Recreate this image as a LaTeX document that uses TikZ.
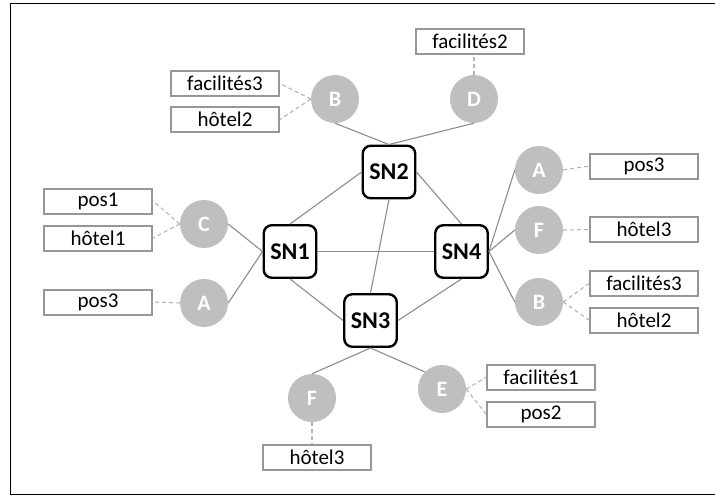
\documentclass[tikz,border=0pt]{standalone}
\usepackage{fontspec}
\setmainfont{Carlito}
\definecolor{circgray}{RGB}{191,191,191}
\definecolor{boxgray}{RGB}{150,150,150}
\definecolor{linegray}{RGB}{140,140,140}
\definecolor{dashgray}{RGB}{180,180,180}
\begin{document}
\begin{tikzpicture}[x=1pt,y=-1pt,
 sn/.style={draw=black,line width=2.4pt,fill=white,rounded corners=8pt,minimum width=52.5pt,minimum height=52.5pt,font=\bfseries\fontsize{24}{26}\selectfont,inner sep=0pt},
 cir/.style={circle,fill=circgray,minimum size=48pt,inner sep=0pt,text=white,font=\bfseries\fontsize{22}{24}\selectfont},
 lbox/.style={draw=boxgray,line width=2pt,fill=white,minimum width=108pt,minimum height=25pt,inner sep=0pt,font=\fontsize{21}{23}\selectfont},
 link/.style={draw=linegray,line width=1.1pt},
 dlink/.style={draw=dashgray,line width=1.1pt,dash pattern=on 4pt off 3pt}]
\useasboundingbox (0,0) rectangle (715,496);
\draw[line width=1.2pt,black] (10.5,3.5) rectangle (720,494.5);
% supernodes
\node[sn] (SN1) at (290,251.5) {SN1};
\node[sn] (SN2) at (389,172) {SN2};
\node[sn] (SN3) at (370.5,320.5) {SN3};
\node[sn] (SN4) at (461.5,251.5) {SN4};
% circles
\node[cir] (Bt) at (335,99) {B};
\node[cir] (D) at (474,99) {D};
\node[cir] (C) at (204,224) {C};
\node[cir] (Al) at (204,303) {A};
\node[cir] (Ar) at (539,170) {A};
\node[cir] (Fr) at (539,230) {F};
\node[cir] (Br) at (539,302) {B};
\node[cir] (Fb) at (312,398) {F};
\node[cir] (E) at (442,389) {E};
% label boxes
\node[lbox] (fac3t) at (225,83.5) {facilités3};
\node[lbox] (hot2t) at (225,119.5) {hôtel2};
\node[lbox] (fac2) at (470,41) {facilités2};
\node[lbox] (pos1) at (98,201) {pos1};
\node[lbox] (hot1) at (98,238) {hôtel1};
\node[lbox] (pos3l) at (98,302) {pos3};
\node[lbox] (pos3r) at (644,166) {pos3};
\node[lbox] (hot3r) at (644,229.5) {hôtel3};
\node[lbox] (fac3r) at (644,283.5) {facilités3};
\node[lbox] (hot2r) at (644,320) {hôtel2};
\node[lbox] (fac1) at (541,377.5) {facilités1};
\node[lbox] (pos2) at (541,414) {pos2};
\node[lbox] (hot3b) at (317,457) {hôtel3};
% solid links
\draw[link] (SN2.north) -- (Bt.south);
\draw[link] (SN2.north) -- (D.south);
\draw[link] (SN2.west) -- (SN1.north);
\draw[link] (SN2.east) -- (SN4.north);
\draw[link] (SN2.south) -- (SN3.north);
\draw[link] (SN1.east) -- (SN4.west);
\draw[link] (SN1.south) -- (SN3.west);
\draw[link] (SN3.east) -- (SN4.south);
\draw[link] (SN1.west) -- (C.east);
\draw[link] (SN1.west) -- (Al.east);
\draw[link] (SN4.east) -- (Ar.west);
\draw[link] (SN4.east) -- (Fr.west);
\draw[link] (SN4.east) -- (Br.west);
\draw[link] (SN3.south) -- (Fb.north);
\draw[link] (SN3.south) -- (E.north west);
% dashed links
\draw[dlink] (Bt.west) -- (fac3t.east);
\draw[dlink] (Bt.west) -- (hot2t.east);
\draw[dlink] (D.north) -- (D.north |- fac2.south);
\draw[dlink] (C.west) -- (pos1.east);
\draw[dlink] (C.west) -- (hot1.east);
\draw[dlink] (Al.west) -- (pos3l.east);
\draw[dlink] (Ar.east) -- (pos3r.west);
\draw[dlink] (Fr.east) -- (hot3r.west);
\draw[dlink] (Br.east) -- (fac3r.west);
\draw[dlink] (Br.east) -- (hot2r.west);
\draw[dlink] (E.east) -- (fac1.west);
\draw[dlink] (E.east) -- (pos2.west);
\draw[dlink] (Fb.south) -- (Fb.south |- hot3b.north);
\end{tikzpicture}
\end{document}
